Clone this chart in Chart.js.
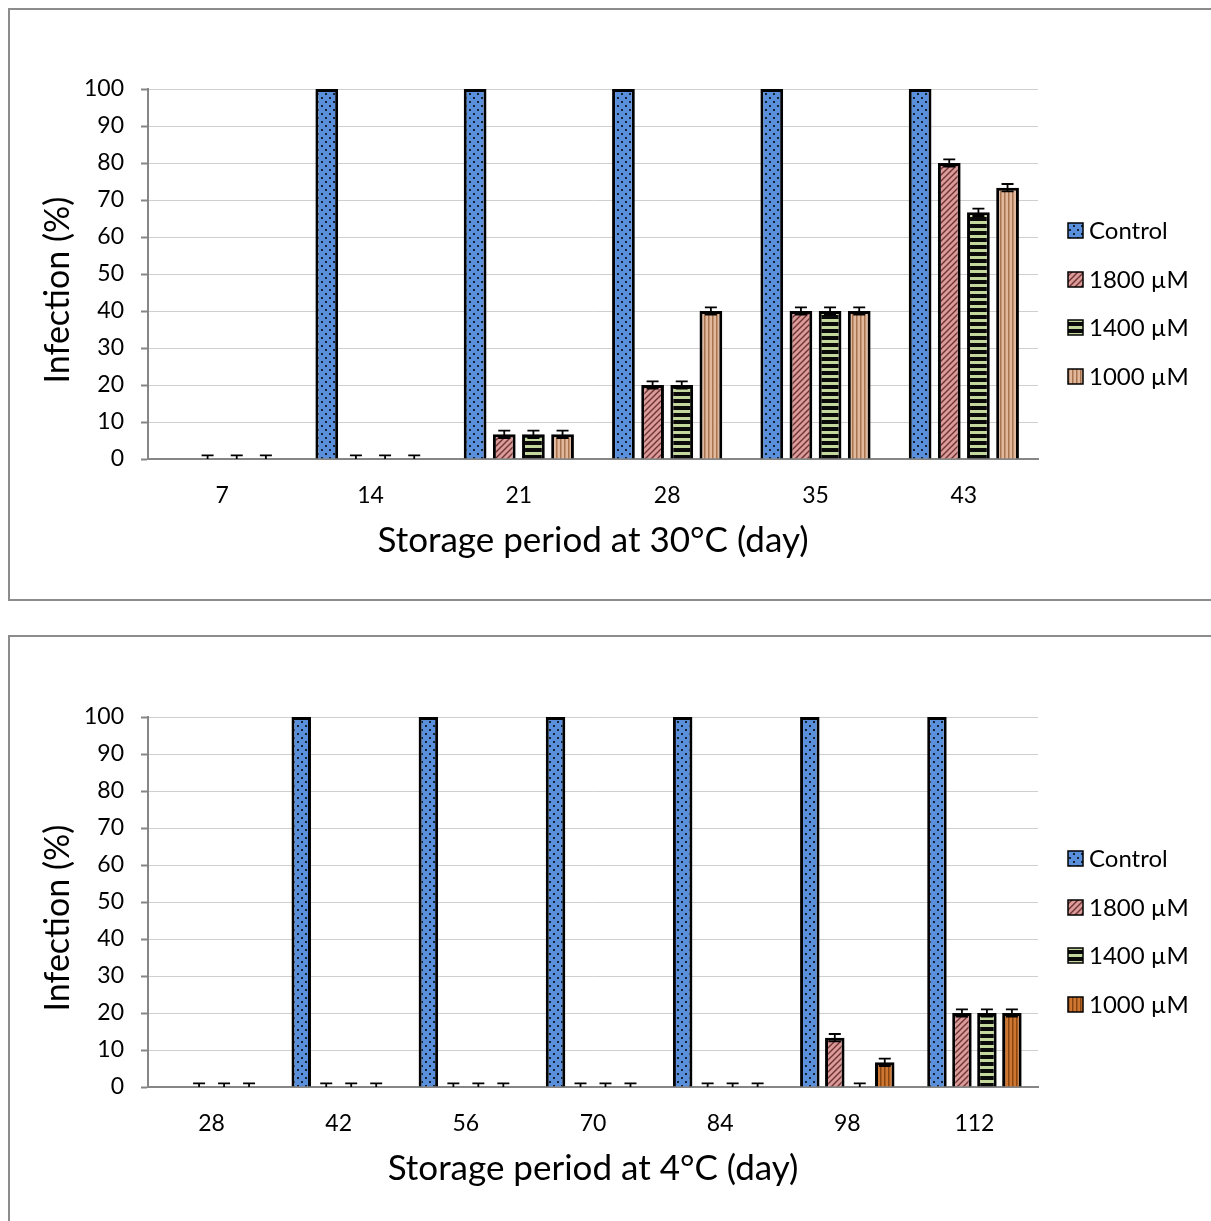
<!DOCTYPE html>
<html>
<head>
<meta charset="utf-8">
<script src="https://cdn.jsdelivr.net/npm/chart.js@4.4.1/dist/chart.umd.min.js"></script>
<style>
  html, body { margin: 0; padding: 0; background: #fff; overflow: hidden; width: 1211px; height: 1221px; }
  .frame { position: absolute; border: 2px solid #8c8c8c; box-sizing: border-box; }
  canvas { position: absolute; left: 0; }
</style>
</head>
<body>
<div class="frame" style="left:8px; top:8px; width:1220px; height:593px;"></div>
<div class="frame" style="left:8px; top:635px; width:1220px; height:600px;"></div>
<canvas id="chartTop" width="1211" height="600" style="top:0px"></canvas>
<canvas id="chartBottom" width="1211" height="600" style="top:628px"></canvas>
<script>
// data
const seriesNames = ['Control', '1800 µM', '1400 µM', '1000 µM'];

const daysTop = ['7', '14', '21', '28', '35', '43'];
const controlTop = [0, 100, 100, 100, 100, 100];
const uM1800Top = [0, 0, 6.67, 20, 40, 80];
const uM1400Top = [0, 0, 6.67, 20, 40, 66.67];
const uM1000Top = [0, 0, 6.67, 40, 40, 73.33];
const errControlTop = [0, 0, 0, 0, 0, 0];
const errTreatTop = [1, 1, 1, 1, 1, 1];

const daysBottom = ['28', '42', '56', '70', '84', '98', '112'];
const controlBottom = [0, 100, 100, 100, 100, 100, 100];
const uM1800Bottom = [0, 0, 0, 0, 0, 13.33, 20];
const uM1400Bottom = [0, 0, 0, 0, 0, 0, 20];
const uM1000Bottom = [0, 0, 0, 0, 0, 6.67, 20];
const errControlBottom = [0, 0, 0, 0, 0, 0, 0];
const errTreatBottom = [1, 1, 1, 1, 1, 1, 1];

const yTitle = 'Infection (%)';
const xTitleTop = 'Storage period at 30°C (day)';
const xTitleBottom = 'Storage period at 4°C (day)';

const FONT = 'Lato';

function tile(w, h, paint) {
  const c = document.createElement('canvas');
  c.width = w; c.height = h;
  const t = c.getContext('2d');
  paint(t, w, h);
  return document.createElement('canvas').getContext('2d').createPattern(c, 'repeat');
}

function dotPattern() {
  return tile(8, 8, (t, w, h) => {
    t.fillStyle = '#5a8fdb'; t.fillRect(0, 0, w, h);
    t.fillStyle = '#142238';
    t.fillRect(1, 1, 2, 2);
    t.fillRect(5, 5, 2, 2);
  });
}

function diagPattern() {
  return tile(6, 6, (t, w, h) => {
    t.fillStyle = '#dc9a98'; t.fillRect(0, 0, w, h);
    t.strokeStyle = '#6a3434'; t.lineWidth = 1.4;
    t.beginPath();
    t.moveTo(-1, 7); t.lineTo(7, -1);
    t.moveTo(-1, 1); t.lineTo(1, -1);
    t.moveTo(5, 7); t.lineTo(7, 5);
    t.stroke();
  });
}

function stripePattern() {
  return tile(4, 7, (t, w, h) => {
    t.fillStyle = '#c4d79c'; t.fillRect(0, 0, w, h);
    t.fillStyle = '#0a0a0a'; t.fillRect(0, 0, w, 4);
  });
}

function vertPattern(base, line) {
  return tile(4, 4, (t, w, h) => {
    t.fillStyle = base; t.fillRect(0, 0, w, h);
    t.fillStyle = line; t.fillRect(0, 0, 1.5, h);
  });
}

const errorBars = {
  id: 'errorBars',
  afterDatasetsDraw(chart) {
    const ctx = chart.ctx;
    const area = chart.chartArea;
    const y = chart.scales.y;
    ctx.save();
    ctx.beginPath();
    ctx.rect(area.left, area.top - 20, area.right - area.left, area.bottom - area.top + 20);
    ctx.clip();
    ctx.strokeStyle = '#000';
    ctx.lineWidth = 1.8;
    chart.data.datasets.forEach((ds, i) => {
      const meta = chart.getDatasetMeta(i);
      meta.data.forEach((bar, j) => {
        const e = ds.errors[j];
        if (!e) return;
        const v = ds.data[j];
        const top = y.getPixelForValue(v + e);
        const bot = y.getPixelForValue(v - e);
        ctx.beginPath();
        ctx.moveTo(bar.x, top); ctx.lineTo(bar.x, bot);
        ctx.moveTo(bar.x - 6, top); ctx.lineTo(bar.x + 6, top);
        ctx.moveTo(bar.x - 6, bot); ctx.lineTo(bar.x + 6, bot);
        ctx.stroke();
      });
    });
    ctx.restore();
  }
};

const sideLegend = {
  id: 'sideLegend',
  afterDraw(chart) {
    const ctx = chart.ctx;
    const rows = [230, 279, 327, 376];
    ctx.save();
    ctx.font = '24px ' + FONT;
    ctx.textBaseline = 'middle';
    chart.data.datasets.forEach((ds, i) => {
      const cy = rows[i];
      ctx.fillStyle = ds.backgroundColor;
      ctx.fillRect(1068, cy - 7, 15, 15);
      ctx.strokeStyle = '#000';
      ctx.lineWidth = 1.5;
      ctx.strokeRect(1068, cy - 7, 15, 15);
      ctx.fillStyle = '#000';
      ctx.fillText(ds.label, 1089, cy + 1);
    });
    ctx.restore();
  }
};

const yAxisTitle = {
  id: 'yAxisTitle',
  afterDraw(chart) {
    const ctx = chart.ctx;
    ctx.save();
    ctx.translate(58, 290);
    ctx.rotate(-Math.PI / 2);
    ctx.font = '34px ' + FONT;
    ctx.textAlign = 'center';
    ctx.textBaseline = 'middle';
    ctx.fillStyle = '#000';
    ctx.fillText(yTitle, 0, 0);
    ctx.restore();
  }
};

function makeChart(id, labels, values, errs, xTitle, pat1000) {
  const fills = [dotPattern(), diagPattern(), stripePattern(), pat1000];
  const datasets = values.map((d, i) => ({
    label: seriesNames[i],
    data: d,
    errors: errs[i],
    backgroundColor: fills[i],
    borderColor: '#000',
    borderWidth: 3,
    borderSkipped: 'start',
    categoryPercentage: 0.786,
    barPercentage: 0.78
  }));

  return new Chart(document.getElementById(id), {
    type: 'bar',
    data: { labels: labels, datasets: datasets },
    options: {
      responsive: false,
      animation: false,
      devicePixelRatio: 1,
      layout: { padding: { left: 0, top: 89, right: 173, bottom: 0 } },
      plugins: { legend: { display: false }, tooltip: { enabled: false } },
      scales: {
        x: {
          grid: { display: false, drawTicks: false },
          border: { color: '#868686', width: 2 },
          ticks: { color: '#000', font: { family: FONT, size: 23 }, padding: 23 },
          title: {
            display: true, text: xTitle, color: '#000',
            font: { family: FONT, size: 35 }, padding: { top: 0, bottom: 38 }
          },
          afterFit: s => { s.height = 141; }
        },
        y: {
          min: 0, max: 100,
          grid: {
            color: '#cfcfcf', borderDash: [1, 1], lineWidth: 1,
            drawTicks: true, tickLength: 7, tickColor: '#868686', tickBorderDash: [], tickWidth: 2
          },
          border: { color: '#868686', width: 2 },
          ticks: { stepSize: 10, color: '#000', font: { family: FONT, size: 23 }, padding: 17 },
          afterFit: s => { s.width = 148; }
        }
      }
    },
    plugins: [errorBars, sideLegend, yAxisTitle]
  });
}

makeChart('chartTop', daysTop,
  [controlTop, uM1800Top, uM1400Top, uM1000Top],
  [errControlTop, errTreatTop, errTreatTop, errTreatTop],
  xTitleTop, vertPattern('#e2b89c', '#a87450'));

makeChart('chartBottom', daysBottom,
  [controlBottom, uM1800Bottom, uM1400Bottom, uM1000Bottom],
  [errControlBottom, errTreatBottom, errTreatBottom, errTreatBottom],
  xTitleBottom, vertPattern('#cf7630', '#8a4612'));
</script>
</body>
</html>
